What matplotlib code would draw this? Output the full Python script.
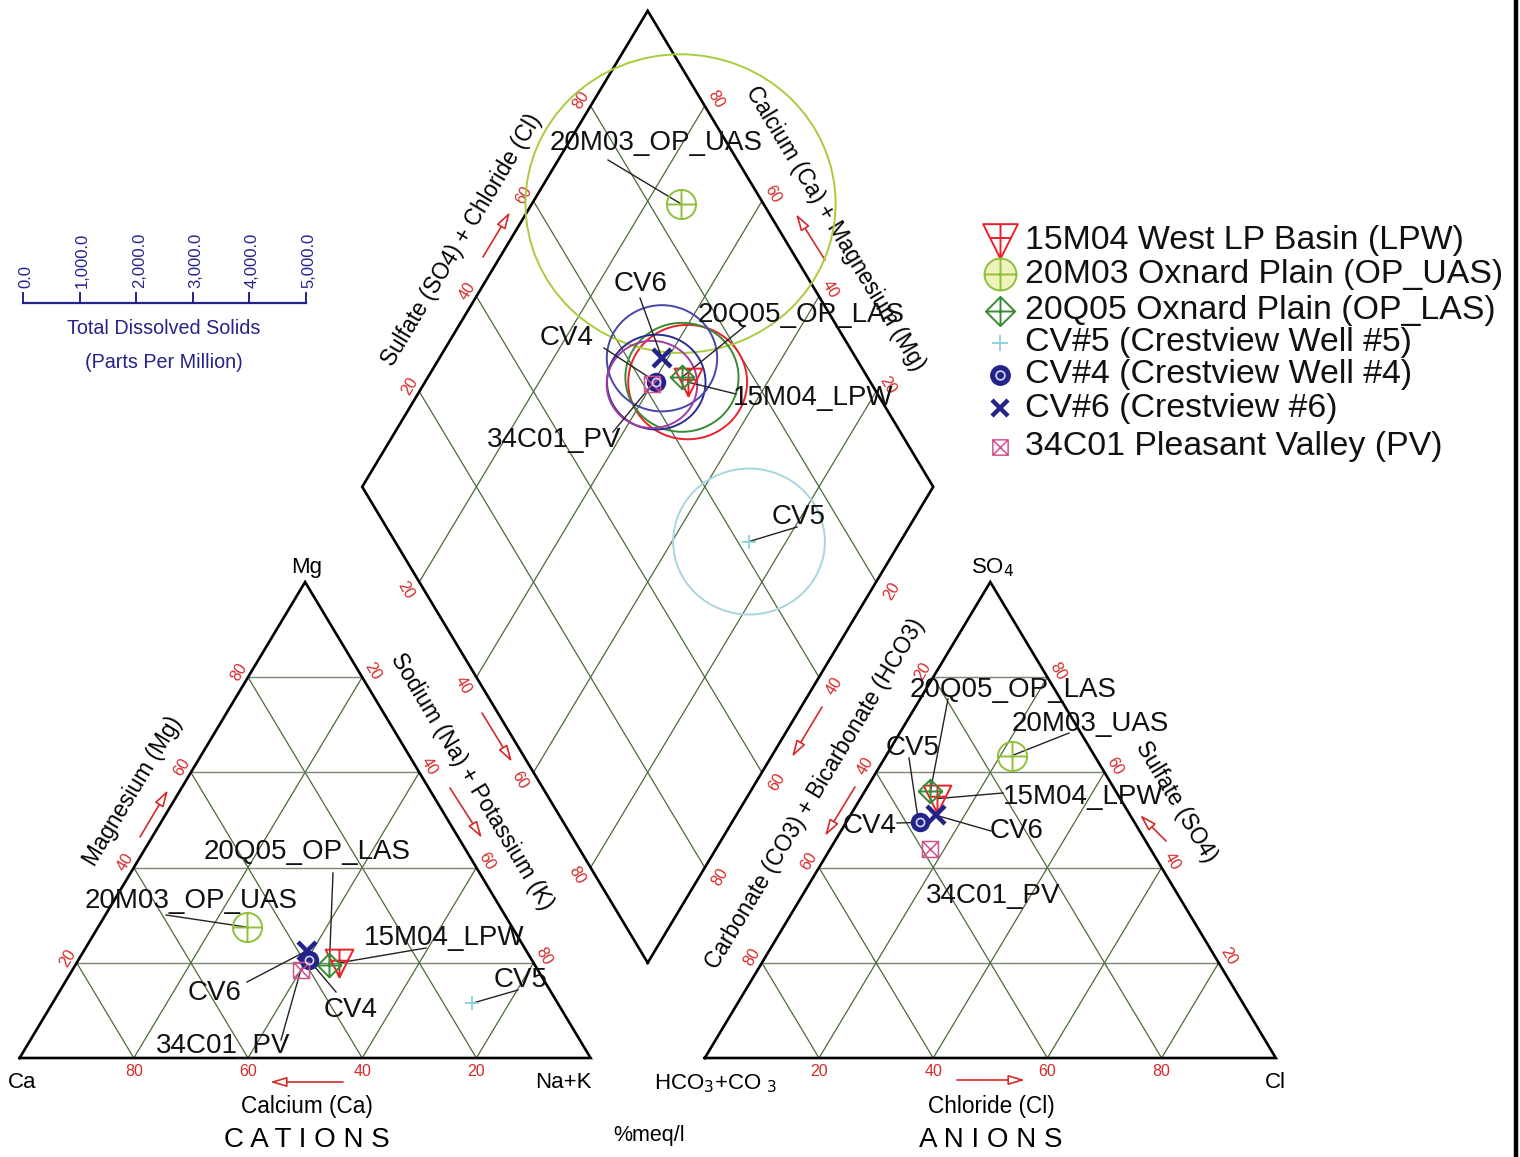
import matplotlib
matplotlib.use("Agg")
import matplotlib.pyplot as plt
from matplotlib.path import Path
from matplotlib.patches import Ellipse

plt.rcParams['font.family'] = ['Liberation Sans', 'DejaVu Sans']

# ---------------------------------------------------------------- data
sample_ids = ["15M04", "20M03", "20Q05", "CV5", "CV4", "CV6", "34C01"]
legend_names = ["15M04 West LP Basin (LPW)", "20M03 Oxnard Plain (OP_UAS)",
                "20Q05 Oxnard Plain (OP_LAS)", "CV#5 (Crestview Well #5)",
                "CV#4 (Crestview Well #4)", "CV#6 (Crestview #6)",
                "34C01 Pleasant Valley (PV)"]
diamond_labels = ["15M04_LPW", "20M03_OP_UAS", "20Q05_OP_LAS", "CV5", "CV4", "CV6", "34C01_PV"]
cation_labels = ["15M04_LPW", "20M03_OP_UAS", "20Q05_OP_LAS", "CV5", "CV4", "CV6", "34C01_PV"]
anion_labels = ["15M04_LPW", "20M03_UAS", "20Q05_OP_LAS", "CV5", "CV4", "CV6", "34C01_PV"]

# cations, % meq/l
ca = [34.0, 46.5, 36.0, 15.0, 39.0, 38.5, 41.5]
mg = [20.0, 27.5, 19.5, 11.5, 20.5, 22.5, 18.5]
nak = [46.0, 26.0, 44.5, 73.5, 40.5, 39.0, 40.0]
# anions, % meq/l
hco3 = [32.0, 14.5, 32.5, 38.0, 37.5, 34.0, 38.5]
so4 = [54.5, 63.5, 56.0, 49.0, 49.5, 51.0, 44.0]
cl = [13.5, 22.0, 11.5, 13.0, 13.0, 15.0, 17.5]
# total dissolved solids, ppm
tds = [1050, 2740, 1000, 1340, 870, 975, 800]

tds_ticks = [0, 1000, 2000, 3000, 4000, 5000]
pct_ticks = [20, 40, 60, 80]

# ---------------------------------------------------------------- geometry
X0, Y0 = 19.6, 1058.0      # Ca corner of the cation triangle
S, H = 571.0, 476.0        # triangle side (horizontal) and height
GAP = 0.2                  # gap between triangles (fraction of side)
XA = X0 + (1 + GAP) * S    # HCO3 corner of the anion triangle
TDS_X0, TDS_Y = 23.0, 303.0
PX_PER_PPM = 283.0 / 5000.0
KY = H / (S * 0.8660254)   # vertical squeeze of the drawing


def cat_xy(c, m, n):
    t = c + m + n
    return X0 + S * (n + m / 2.0) / t, Y0 - H * m / t


def an_xy(h, s, c):
    t = h + s + c
    return XA + S * (c + s / 2.0) / t, Y0 - H * s / t


def dia_xy(u, v):
    return X0 + S * (1 + GAP / 2 + 0.5 * (v - u)), Y0 - H * (GAP + u + v)


def dia_point(c, m, n, h, s, cc):
    u = (c + m) / (c + m + n)
    v = (s + cc) / (h + s + cc)
    return dia_xy(u, v)


# ---------------------------------------------------------------- markers
M, L, C = Path.MOVETO, Path.LINETO, Path.CLOSEPOLY
tri_cross = Path([(-1, 1), (1, 1), (0, -1), (-1, 1), (0, 1), (0, -1), (-0.6, 0.2), (0.6, 0.2)],
                 [M, L, L, C, M, L, M, L])
circ_cross = Path.make_compound_path(
    Path.unit_circle(), Path([(-1, 0), (1, 0), (0, -1), (0, 1)], [M, L, M, L]))
dia_cross = Path([(0, 1), (1, 0), (0, -1), (-1, 0), (0, 1), (-1, 0), (1, 0), (0, 1), (0, -1)],
                 [M, L, L, L, C, M, L, M, L])
box_x = Path([(-1, -1), (1, -1), (1, 1), (-1, 1), (-1, -1), (-1, -1), (1, 1), (-1, 1), (1, -1)],
             [M, L, L, L, C, M, L, M, L])

NAVY = '#23238a'
styles = {
    "15M04": dict(marker=tri_cross, color='#e8222a', ms=20, lms=25, mew=1.4),
    "20M03": dict(marker=circ_cross, color='#8fc03a', ms=21, lms=23, mew=1.4),
    "20Q05": dict(marker=dia_cross, color='#3a8a34', ms=17, lms=21, mew=1.4),
    "CV5": dict(marker='+', color='#8fd0d8', ms=10, lms=11, mew=1.3),
    "CV4": dict(marker='o', color=NAVY, ms=13, lms=14, mew=1.0),
    "CV6": dict(marker='x', color=NAVY, ms=13, lms=12, mew=3.2),
    "34C01": dict(marker=box_x, color='#d2508e', ms=11.5, lms=11, mew=1.1),
}
circle_colors = {"15M04": '#e8222a', "20M03": '#a9cc3e', "20Q05": '#3a8a34',
                 "CV5": '#a8d6dc', "CV4": '#2c2c90', "CV6": '#4646a8', "34C01": '#a03ca0'}

RED = '#d42a2a'
GRID = '#4a6a3a'
HGRID = '#7a8872'

fig = plt.figure(figsize=(15.2, 11.57), dpi=100)
ax = fig.add_axes([0, 0, 1, 1])
ax.set_xlim(0, 1520)
ax.set_ylim(1157, 0)
ax.axis('off')


def seg(p, q, **kw):
    ax.plot([p[0], q[0]], [p[1], q[1]], **kw)


def draw_marker(ax, x, y, sid, legend=False):
    st = styles[sid]
    ms = st['lms'] if legend else st['ms']
    if sid == "CV4":
        ax.plot(x, y, marker='o', ms=ms, mfc=NAVY, mec=NAVY, ls='none', zorder=6)
        ax.plot(x, y, marker='o', ms=ms * 0.45, mfc='none', mec='#d8d8f0', mew=1.2,
                ls='none', zorder=7)
    else:
        mfc = 'none'
        if legend and sid == "20M03":
            mfc = '#eef2bc'
        ax.plot(x, y, marker=st['marker'], ms=ms, mfc=mfc, mec=st['color'],
                mew=st['mew'], ls='none', zorder=6)


# ---------------------------------------------------------------- grids
for k in [0.2, 0.4, 0.6, 0.8]:
    # cation triangle
    seg(cat_xy(1 - k, k, 0), cat_xy(0, k, 1 - k), color=HGRID, lw=1.0)
    seg(cat_xy(1 - k, 0, k), cat_xy(0, 1 - k, k), color=GRID, lw=0.9)
    seg(cat_xy(k, 0, 1 - k), cat_xy(k, 1 - k, 0), color=GRID, lw=0.9)
    # anion triangle
    seg(an_xy(1 - k, k, 0), an_xy(0, k, 1 - k), color=HGRID, lw=1.0)
    seg(an_xy(1 - k, 0, k), an_xy(0, 1 - k, k), color=GRID, lw=0.9)
    seg(an_xy(k, 0, 1 - k), an_xy(k, 1 - k, 0), color=GRID, lw=0.9)
    # diamond
    seg(dia_xy(k, 0), dia_xy(k, 1), color=GRID, lw=0.9)
    seg(dia_xy(0, k), dia_xy(1, k), color=GRID, lw=0.9)

# outlines
tri_c = [cat_xy(1, 0, 0), cat_xy(0, 0, 1), cat_xy(0, 1, 0), cat_xy(1, 0, 0)]
tri_a = [an_xy(1, 0, 0), an_xy(0, 0, 1), an_xy(0, 1, 0), an_xy(1, 0, 0)]
dia = [dia_xy(0, 0), dia_xy(1, 0), dia_xy(1, 1), dia_xy(0, 1), dia_xy(0, 0)]
for poly in (tri_c, tri_a, dia):
    ax.plot([p[0] for p in poly], [p[1] for p in poly], color='black', lw=1.9,
            solid_joinstyle='miter', zorder=3)

# ---------------------------------------------------------------- tick numbers
NL = (-0.857, -0.514)   # outward normal, left edges
NR = (0.857, -0.514)    # outward normal, right edges
tk = dict(color=RED, fontsize=11.5, ha='center', va='center')
for t in pct_ticks:
    f = t / 100.0
    # cation: bottom (Ca), left (Mg), right (Na+K)
    x, y = cat_xy(f, 0, 1 - f)
    ax.text(x, y + 14, str(t), **tk)
    x, y = cat_xy(1 - f, f, 0)
    ax.text(x + 10 * NL[0], y + 10 * NL[1], str(t), rotation=59, **tk)
    x, y = cat_xy(0, 1 - f, f)
    ax.text(x + 12 * NR[0], y + 12 * NR[1], str(t), rotation=-59, **tk)
    # anion: bottom (Cl), left (HCO3), right (SO4)
    x, y = an_xy(1 - f, 0, f)
    ax.text(x, y + 14, str(t), **tk)
    x, y = an_xy(f, 1 - f, 0)
    ax.text(x + 12 * NL[0], y + 12 * NL[1], str(t), rotation=59, **tk)
    x, y = an_xy(0, f, 1 - f)
    ax.text(x + 12 * NR[0], y + 12 * NR[1], str(t), rotation=-59, **tk)
    # diamond: upper-left (SO4+Cl), upper-right (Ca+Mg)
    x, y = dia_xy(1, f)
    ax.text(x + 11 * NL[0], y + 11 * NL[1], str(t), rotation=59, **tk)
    x, y = dia_xy(f, 1)
    ax.text(x + 13 * NR[0], y + 13 * NR[1], str(t), rotation=-59, **tk)
    # diamond: lower-left (Na+K), lower-right (CO3+HCO3)
    x, y = dia_xy(1 - f, 0)
    ax.text(x - 16 * 0.857, y + 16 * 0.514, str(t), rotation=-59, **tk)
    x, y = dia_xy(0, 1 - f)
    ax.text(x + 18 * 0.857, y + 18 * 0.514, str(t), rotation=59, **tk)

# ---------------------------------------------------------------- axis titles
ttl = dict(fontsize=16.3, ha='center', va='center', color='black')
ax.text(133, 791, "Magnesium (Mg)", rotation=59, **ttl)
ax.text(472, 782, "Sodium (Na) + Potassium (K)", rotation=-59, **ttl)
ax.text(462, 240, "Sulfate (SO4) + Chloride (Cl)", rotation=59, **ttl)
ax.text(835, 228, "Calcium (Ca) + Magnesium (Mg)", rotation=-59, **ttl)
ax.text(815, 794, "Carbonate (CO3) + Bicarbonate (HCO3)", rotation=59, **ttl)
ax.text(1176, 802, "Sulfate (SO4)", rotation=-59, **ttl)
ax.text(307, 1107, "Calcium (Ca)", **ttl)
ax.text(991, 1107, "Chloride (Cl)", **ttl)

corner = dict(fontsize=16, ha='center', va='center', color='black')
ax.text(22, 1082, "Ca", **corner)
ax.text(563, 1082, "Na+K", **corner)
ax.text(307, 567, "Mg", **corner)
ax.text(716, 1084, "HCO$_3$+CO $_3$", **corner)
ax.text(1275, 1082, "Cl", **corner)
ax.text(993, 568, "SO$_4$", **corner)
ax.text(307, 1140, "C A T I O N S", fontsize=20, ha='center', va='center')
ax.text(991, 1140, "A N I O N S", fontsize=20, ha='center', va='center')
ax.text(649, 1135, "%meq/l", fontsize=15.5, ha='center', va='center')

# red direction arrows (open heads)
arrows = [((140, 837), (168, 790)), ((482, 713), (512, 762)), ((450, 788), (482, 838)),
          ((483, 257), (510, 212)), ((825, 260), (796, 214)), ((822, 707), (792, 757)),
          ((855, 787), (825, 836)), ((1166, 841), (1140, 815)),
          ((343, 1082), (270, 1082)), ((957, 1080), (1025, 1080))]
for tail, head in arrows:
    ax.annotate('', xy=head, xytext=tail,
                arrowprops=dict(arrowstyle='-|>,head_length=1.0,head_width=0.3',
                                ec=RED, fc='white', lw=1.2, shrinkA=0, shrinkB=0))

# ---------------------------------------------------------------- TDS scale bar
bar_end = TDS_X0 + tds_ticks[-1] * PX_PER_PPM
ax.plot([TDS_X0, bar_end], [TDS_Y, TDS_Y], color=NAVY, lw=1.6)
for t in tds_ticks:
    x = TDS_X0 + t * PX_PER_PPM
    ax.plot([x, x], [TDS_Y, TDS_Y - 10], color=NAVY, lw=1.4)
    ax.text(x + 3, TDS_Y - 15, f"{t:,.1f}", rotation=90, ha='center', va='bottom',
            fontsize=12, color=NAVY)
ax.text(164, 329, "Total Dissolved Solids", fontsize=14.2, color=NAVY, ha='center', va='center')
ax.text(164, 362, "(Parts Per Million)", fontsize=14.2, color=NAVY, ha='center', va='center')

# ---------------------------------------------------------------- samples
diamond_text = {"15M04": (813, 398, 736, 394), "20M03": (656, 143, 608, 160),
                "20Q05": (801, 315, 745, 326), "CV5": (799, 517, 797, 527),
                "CV4": (567, 338, 604, 348), "CV6": (641, 284, 640, 298),
                "34C01": (554, 440, 613, 432)}
cation_text = {"15M04": (444, 938, 426, 948), "20M03": (191, 901, 166, 915),
               "20Q05": (307, 852, 333, 873), "CV5": (521, 980, 518, 990),
               "CV4": (351, 1010, 336, 992), "CV6": (215, 993, 247, 982),
               "34C01": (223, 1046, 281, 1040)}
anion_text = {"15M04": (1083, 797, 1003, 793), "20M03": (1090, 724, 1069, 733),
              "20Q05": (1013, 690, 948, 699), "CV5": (913, 748, 909, 758),
              "CV4": (870, 826, 897, 823), "CV6": (1017, 831, 991, 831),
              "34C01": (993, 896, None, None)}
lab = dict(fontsize=20, ha='center', va='center', color='#111111', zorder=8)

for i, sid in enumerate(sample_ids):
    cx, cy = cat_xy(ca[i], mg[i], nak[i])
    axx, ayy = an_xy(hco3[i], so4[i], cl[i])
    dx, dy = dia_point(ca[i], mg[i], nak[i], hco3[i], so4[i], cl[i])
    r = tds[i] * PX_PER_PPM
    ax.add_patch(Ellipse((dx, dy), 2 * r, 2 * r * KY, fill=False,
                         ec=circle_colors[sid], lw=1.4, zorder=4))
    for (px, py), table, names in (((cx, cy), cation_text, cation_labels),
                                   ((axx, ayy), anion_text, anion_labels),
                                   ((dx, dy), diamond_text, diamond_labels)):
        tx, ty, lx, ly = table[sid]
        if lx is not None:
            ax.plot([lx, px], [ly, py], color='#222222', lw=1.0, zorder=5)
        ax.text(tx, ty, names[i], **lab)

# markers drawn last so they sit on top of the leaders
for i, sid in enumerate(sample_ids):
    for px, py in (cat_xy(ca[i], mg[i], nak[i]), an_xy(hco3[i], so4[i], cl[i]),
                   dia_point(ca[i], mg[i], nak[i], hco3[i], so4[i], cl[i])):
        draw_marker(ax, px, py, sid)

# ---------------------------------------------------------------- legend
legend_rows = [241, 274, 311, 343, 375, 408, 447]
for i, sid in enumerate(sample_ids):
    y = legend_rows[i]
    draw_marker(ax, 1000, y, sid, legend=True)
    ax.text(1025, y, legend_names[i], fontsize=24.4, ha='left', va='center', color='#111111')

# frame edge on the right
ax.plot([1516, 1516], [0, 1157], color='black', lw=3.2)

fig.savefig("out.png", dpi=100)
